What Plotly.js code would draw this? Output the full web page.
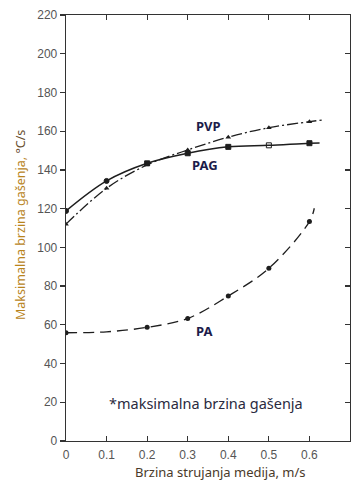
<!DOCTYPE html>
<html>
<head>
<meta charset="utf-8">
<script src="https://cdn.plot.ly/plotly-3.0.1.min.js"></script>
<style>html,body{margin:0;padding:0;background:#fff;}#chart{width:356px;height:485px;}</style>
</head>
<body>
<div id="chart"></div>
<script>
// Data
var xPoints = [0, 0.1, 0.2, 0.3, 0.4, 0.5, 0.6];
var pagValues = [118.8, 134.3, 143.4, 148.6, 151.9, 152.7, 153.8];
var pvpValues = [112.0, 130.5, 142.6, 150.3, 156.9, 161.8, 164.9];
var paX = [0, 0.2, 0.3, 0.4, 0.5, 0.6];
var paValues = [55.9, 58.7, 63.3, 74.9, 89.2, 113.3];
// curve extensions beyond last marker
var pagCurveX = [0, 0.1, 0.2, 0.3, 0.4, 0.5, 0.6, 0.625];
var pagCurveY = [118.8, 134.3, 143.4, 148.6, 151.9, 152.7, 153.8, 153.9];
var pvpCurveX = [0, 0.1, 0.2, 0.3, 0.4, 0.5, 0.6, 0.632];
var pvpCurveY = [112.0, 130.5, 142.6, 150.3, 156.9, 161.8, 164.9, 165.8];
var paCurveX = [0, 0.1, 0.2, 0.3, 0.4, 0.5, 0.6, 0.612];
var paCurveY = [55.9, 56.4, 58.7, 63.3, 74.9, 89.2, 113.3, 120.2];
var xTicks = [0, 0.1, 0.2, 0.3, 0.4, 0.5, 0.6, 0.7];
var xTickText = ['0', '0.1', '0.2', '0.3', '0.4', '0.5', '0.6', '<span style="color:#aaa">0.7</span>'];
var yTicks = [0, 20, 40, 60, 80, 100, 120, 140, 160, 180, 200, 220];
var seriesLabels = ['PVP', 'PAG', 'PA'];
var labelX = [0.352, 0.342, 0.34];
var labelY = [162.9, 142.6, 57];
var footnote = '*maksimalna brzina gašenja';
var xTitle = 'Brzina strujanja medija, m/s';
var yTitleMain = 'Maksimalna brzina gašenja, ';
var yTitleUnit = '°C/s';

var lineColor = '#1e1e1e';
var traces = [
  {x: pagCurveX, y: pagCurveY, mode: 'lines', line: {color: lineColor, width: 1.5, shape: 'spline'}, hoverinfo: 'skip'},
  {x: pvpCurveX, y: pvpCurveY, mode: 'lines', line: {color: lineColor, width: 1.3, shape: 'spline', dash: '11px,3px,2px,3px'}, hoverinfo: 'skip'},
  {x: paCurveX, y: paCurveY, mode: 'lines', line: {color: lineColor, width: 1.3, shape: 'spline', dash: '11px,6px'}, hoverinfo: 'skip'},
  {x: xPoints, y: pagValues, mode: 'markers', marker: {symbol: ['circle', 'circle', 'square', 'square', 'square', 'square-open', 'square'], size: 5, color: lineColor, line: {color: lineColor, width: 1}}},
  {x: xPoints, y: pvpValues, mode: 'markers', marker: {symbol: 'triangle-up', size: 5, color: lineColor}},
  {x: paX, y: paValues, mode: 'markers', marker: {symbol: 'circle', size: 5, color: lineColor}}
];

var annotations = seriesLabels.map(function (t, i) {
  return {x: labelX[i], y: labelY[i], xref: 'x', yref: 'y', text: '<b>' + t + '</b>', showarrow: false,
    font: {family: 'Noto Sans, sans-serif', size: 13, color: '#1c1c4a'}};
});
annotations.push({x: 0.345, y: 19.6, xref: 'x', yref: 'y', text: footnote, showarrow: false,
  font: {family: 'Noto Sans, sans-serif', size: 14.5, color: '#2a2a40'}});
annotations.push({x: 220, y: 472, xref: 'paper', yref: 'paper', text: xTitle, showarrow: false,
  font: {family: 'Noto Sans, sans-serif', size: 13, color: '#4a3a2a'}});
annotations.push({x: 20, y: 225, xref: 'paper', yref: 'paper', text: '<span style="color:#b8841c">' + yTitleMain + '</span><span style="color:#6a5030">' + yTitleUnit + '</span>', showarrow: false, textangle: -90,
  font: {family: 'Noto Sans, sans-serif', size: 12.5, color: '#b8841c'}});

// convert pixel-positioned paper annotations
var L = 66, R = 6, T = 15, B = 44, W = 356, H = 485;
annotations.forEach(function (a) {
  if (a.xref === 'paper') {
    a.x = (a.x - L) / (W - L - R);
    a.y = 1 - (a.y - T) / (H - T - B);
    a.xanchor = 'center'; a.yanchor = 'middle';
  }
});

var layout = {
  width: W, height: H,
  margin: {l: L, r: R, t: T, b: B, pad: 0},
  paper_bgcolor: '#fff', plot_bgcolor: '#fff',
  showlegend: false,
  xaxis: {range: [0, 0.7], tickvals: xTicks, ticktext: xTickText, ticks: 'inside', ticklen: 5, tickcolor: '#333', tickwidth: 1.2,
    showline: true, linecolor: '#333', linewidth: 1.3, mirror: 'ticks', showgrid: false, zeroline: false,
    tickfont: {family: 'Liberation Sans, Arial, sans-serif', size: 12, color: '#555'}, ticklabelstandoff: 2},
  yaxis: {range: [0, 220], tickvals: yTicks, ticks: 'outside', ticklen: 5, tickcolor: '#333', tickwidth: 1.2,
    showline: true, linecolor: '#333', linewidth: 1.3, showgrid: false, zeroline: false,
    tickfont: {family: 'Liberation Sans, Arial, sans-serif', size: 12, color: '#555'}},
  yaxis2: {range: [0, 220], tickvals: yTicks, overlaying: 'y', side: 'right', ticks: 'inside', ticklen: 5, tickcolor: '#333', tickwidth: 1.2,
    showline: true, linecolor: '#333', linewidth: 1.3, showgrid: false, zeroline: false, showticklabels: false},
  annotations: annotations
};
traces.push({x: [0], y: [0], yaxis: 'y2', mode: 'markers', marker: {size: 0, opacity: 0}, hoverinfo: 'skip'});

Plotly.newPlot('chart', traces, layout, {staticPlot: true});
</script>
</body>
</html>
